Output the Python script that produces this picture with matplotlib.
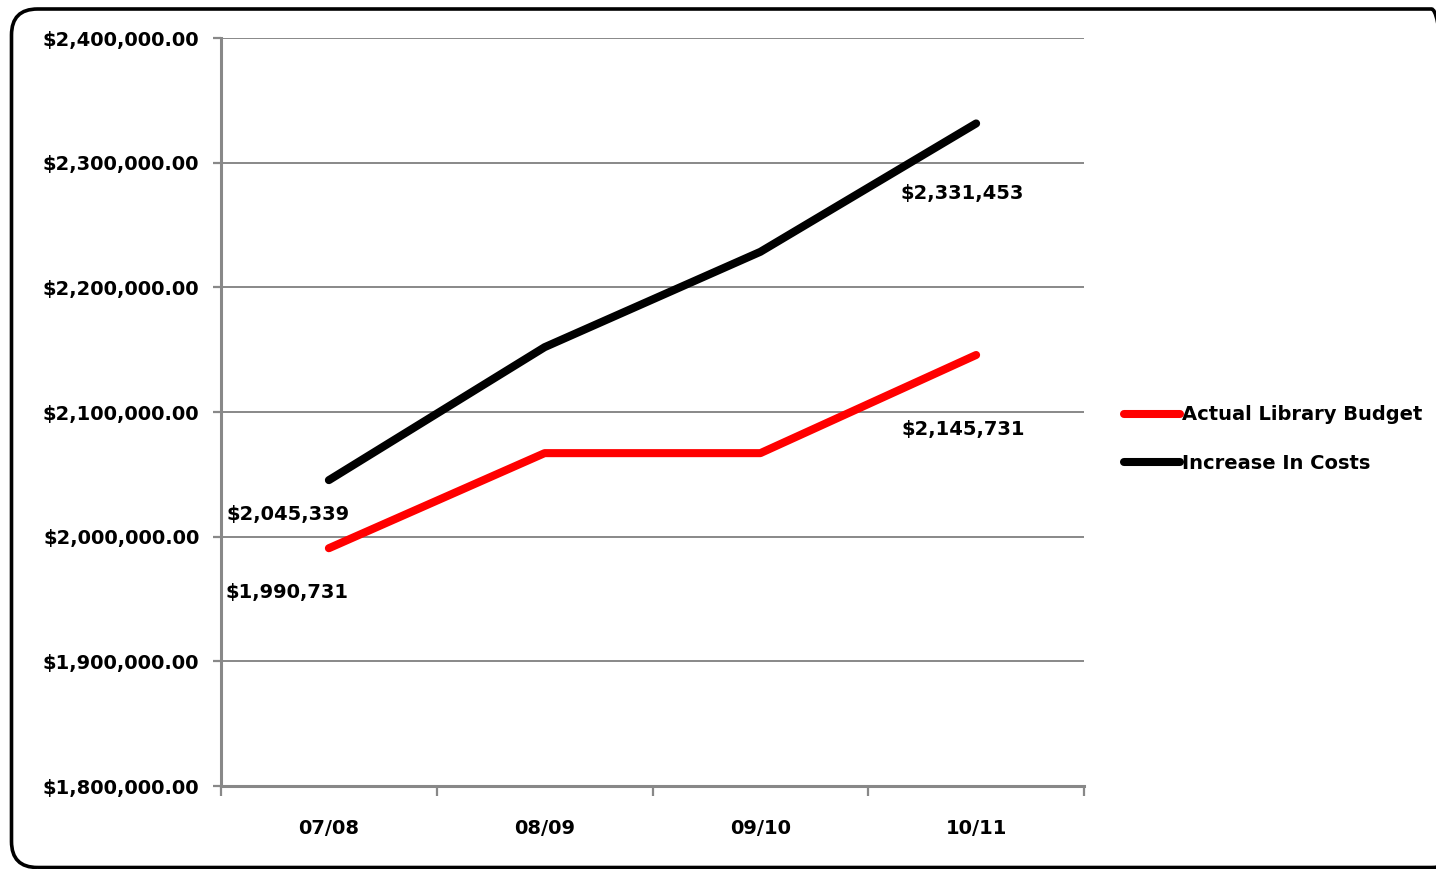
import matplotlib
matplotlib.use("Agg")
import matplotlib.pyplot as plt
from matplotlib.patches import FancyBboxPatch
from matplotlib.ticker import FuncFormatter, FixedLocator

plt.rcParams['font.family'] = ['DejaVu Sans']

years = ["07/08", "08/09", "09/10", "10/11"]
actual_budget = [1990731, 2067000, 2067000, 2145731]
increase_costs = [2045339, 2152000, 2228500, 2331453]
budget_labels = ["$1,990,731", None, None, "$2,145,731"]
costs_labels = ["$2,045,339", None, None, "$2,331,453"]

W, H = 1436, 869
fig = plt.figure(figsize=(W / 100, H / 100), dpi=100)

# rounded frame drawn on a full-figure overlay, in pixel units
bg = fig.add_axes([0, 0, 1, 1], zorder=-1)
bg.set_xlim(0, W)
bg.set_ylim(0, H)
bg.axis("off")
bg.add_patch(FancyBboxPatch((11.5, 1.5), 1446, 858.5,
                            boxstyle="round,pad=0,rounding_size=26",
                            fill=False, edgecolor="black", lw=2.6))

ax = fig.add_axes([221 / W, (H - 786) / H, (1084 - 221) / W, (786 - 38) / H])
ax.patch.set_alpha(0)

x = list(range(len(years)))
red, = ax.plot(x, actual_budget, color="#ff0000", lw=5.8, solid_capstyle="round",
               solid_joinstyle="round", label="Actual Library Budget", zorder=3)
blk, = ax.plot(x, increase_costs, color="#000000", lw=5.8, solid_capstyle="round",
               solid_joinstyle="round", label="Increase In Costs", zorder=3)

ax.set_xlim(-0.5, len(years) - 0.5)
ax.set_ylim(1800000, 2400000)
ax.yaxis.set_major_locator(FixedLocator([1800000 + 100000 * i for i in range(7)]))
ax.yaxis.set_major_formatter(FuncFormatter(lambda v, p: f"${v:,.2f}"))
ax.set_xticks(x)
ax.set_xticklabels(years)
ax.set_xticks([i - 0.5 for i in range(len(years) + 1)], minor=True)

ax.grid(axis="y", color="#888888", lw=1.4, zorder=0)
for s in ("top", "right"):
    ax.spines[s].set_visible(False)
for s in ("left", "bottom"):
    ax.spines[s].set_color("#888888")
    ax.spines[s].set_linewidth(2.2)

ax.tick_params(axis="y", which="major", length=6, width=1.6, color="#888888",
               direction="out", pad=9.5, labelsize=14)
ax.tick_params(axis="x", which="major", length=0, pad=24, labelsize=14)
ax.tick_params(axis="x", which="minor", length=7, width=1.6, color="#888888",
               direction="out")
for lab in ax.get_yticklabels() + ax.get_xticklabels():
    lab.set_fontweight("bold")

# value labels at the first and last points (offsets in pixels)
costs_offsets = {0: (-41, -34), 3: (-14, -70)}
budget_offsets = {0: (-42, -44), 3: (-13, -75)}
for vals, labels, offs in ((increase_costs, costs_labels, costs_offsets),
                           (actual_budget, budget_labels, budget_offsets)):
    for i, txt in enumerate(labels):
        if txt:
            dx, dy = offs[i]
            ax.annotate(txt, (x[i], vals[i]), xytext=(dx * 0.72, dy * 0.72),
                        textcoords="offset points", ha="center", va="center",
                        fontsize=14, fontweight="bold")

fig.legend(handles=[red, blk], loc="center left",
           bbox_to_anchor=(1106 / W, (H - 439) / H), frameon=False,
           handlelength=2.9, handletextpad=0.1, labelspacing=1.5,
           prop={"size": 14, "weight": "bold"})

fig.savefig("out.png", dpi=100, facecolor="white")
